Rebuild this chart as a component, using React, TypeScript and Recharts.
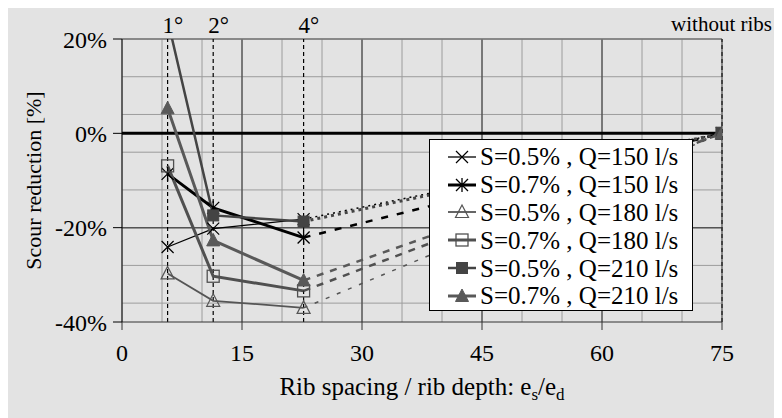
import React from "react";
import { LineChart, Line, XAxis, YAxis, CartesianGrid, ReferenceLine } from "recharts";

// rib spacing positions (es/ed) for the 1°, 2°, 4° slopes
const ribX = [5.7, 11.4, 22.7];
const ribLabels = ["1°", "2°", "4°"];
const noRibX = 75;
const noRibY = 0;

// scour reduction [%] at 1°, 2°, 4°
const s05q150 = [-24.1, -20.2, -18.2];
const s07q150 = [-8.6, -15.8, -22.1];
const s05q180 = [-29.7, -35.5, -37.0];
const s07q180 = [-6.9, -30.3, -33.4];
const s05q210 = [24.1, -17.4, -18.7];
const s07q210 = [5.3, -22.7, -31.2];

const names = [
    "S=0.5% , Q=150 l/s",
    "S=0.7% , Q=150 l/s",
    "S=0.5% , Q=180 l/s",
    "S=0.7% , Q=180 l/s",
    "S=0.5% , Q=210 l/s",
    "S=0.7% , Q=210 l/s",
];

const xTicks = [0, 15, 30, 45, 60, 75];
const yTicks = [-40, -20, 0, 20];
const xMinor = [0, 5, 10, 15, 20, 25, 30, 35, 40, 45, 50, 55, 60, 65, 70, 75];
const yMinor = [-40, -36, -32, -28, -24, -20, -16, -12, -8, -4, 0, 4, 8, 12, 16, 20];
const xMajor = [15, 30, 45, 60];

const FONT = "'Liberation Serif', 'Times New Roman', Times, serif";

const series = [
    { name: names[0], values: s05q150, shape: "cross", color: "#000", width: 1.3, dash: "2 4", dashWidth: 1.5 },
    { name: names[1], values: s07q150, shape: "star", color: "#000", width: 3, dash: "7 9", dashWidth: 2.5 },
    { name: names[2], values: s05q180, shape: "triangle", color: "#555", width: 1.8, dash: "4 8", dashWidth: 1.5 },
    { name: names[3], values: s07q180, shape: "square", color: "#505050", width: 3, dash: "7 7", dashWidth: 2.5 },
    { name: names[4], values: s05q210, shape: "squareFilled", color: "#444", width: 2.5, dash: "3 4", dashWidth: 3 },
    { name: names[5], values: s07q210, shape: "triangleFilled", color: "#595959", width: 3, dash: "7 7", dashWidth: 2.5 },
];

function Marker({ shape, cx, cy, color }: { shape: string; cx: number; cy: number; color: string }) {
    const s = 6;
    if (shape === "cross")
        return <path d={`M${cx - s},${cy - s}L${cx + s},${cy + s}M${cx - s},${cy + s}L${cx + s},${cy - s}`} stroke={color} strokeWidth={1.2} fill="none" />;
    if (shape === "star")
        return <path d={`M${cx - s},${cy - s}L${cx + s},${cy + s}M${cx - s},${cy + s}L${cx + s},${cy - s}M${cx},${cy - s - 1}L${cx},${cy + s + 1}`} stroke={color} strokeWidth={1.3} fill="none" />;
    if (shape === "triangle")
        return <polygon points={`${cx},${cy - 7} ${cx + 6.5},${cy + 5.5} ${cx - 6.5},${cy + 5.5}`} stroke={color} strokeWidth={1.2} fill="none" />;
    if (shape === "triangleFilled")
        return <polygon points={`${cx},${cy - 7} ${cx + 6.5},${cy + 5.5} ${cx - 6.5},${cy + 5.5}`} stroke={color} strokeWidth={1} fill={color} />;
    if (shape === "square")
        return <rect x={cx - 6} y={cy - 6} width={12} height={12} stroke={color} strokeWidth={1.3} fill="none" />;
    return <rect x={cx - 5.5} y={cy - 5.5} width={11} height={11} stroke={color} strokeWidth={1} fill={color} />;
}

function LegendBox() {
    return (
        <div
            style={{
                position: "absolute",
                left: 424,
                top: 131,
                width: 264,
                height: 172,
                background: "#fff",
                border: "1px solid #000",
                fontFamily: FONT,
                fontSize: 25,
                paddingTop: 3,
                boxSizing: "border-box",
            }}
        >
            {series.map((s) => (
                <div key={s.name} style={{ display: "flex", alignItems: "center", height: 27.8, paddingLeft: 17 }}>
                    <svg width={30} height={20} style={{ marginRight: 3 }}>
                        <line x1={1} y1={10} x2={29} y2={10} stroke={s.color} strokeWidth={s.width} />
                        <Marker shape={s.shape} cx={15} cy={10} color={s.color} />
                    </svg>
                    <span style={{ whiteSpace: "pre", lineHeight: "25px" }}>{s.name}</span>
                </div>
            ))}
        </div>
    );
}

export default function App() {
    return (
        <div style={{ position: "relative", marginLeft: -3, width: 777, height: 410, background: "#e3e3e3", fontFamily: FONT }}>
            <LineChart width={777} height={410} margin={{ top: 31, right: 60, bottom: 0, left: 0 }}>
                <CartesianGrid stroke="#9c9c9c" horizontalValues={yMinor} verticalValues={xMinor} />
                <XAxis
                    dataKey="x"
                    type="number"
                    domain={[0, 75]}
                    ticks={xTicks}
                    allowDataOverflow
                    height={96}
                    tickSize={8}
                    tickMargin={14}
                    stroke="#333"
                    tick={{ fill: "#000", fontSize: 24, fontFamily: FONT }}
                    label={({ viewBox }: any) => (
                        <text x={viewBox.x + viewBox.width / 2} y={viewBox.y + 73} textAnchor="middle" fontFamily={FONT} fontSize={25} fill="#000">
                            Rib spacing / rib depth: e
                            <tspan dy={5} fontSize={17}>s</tspan>
                            <tspan dy={-5}>/e</tspan>
                            <tspan dy={5} fontSize={17}>d</tspan>
                        </text>
                    )}
                />
                <YAxis
                    type="number"
                    domain={[-40, 20]}
                    ticks={yTicks}
                    allowDataOverflow
                    width={117}
                    tickSize={9}
                    tickMargin={6}
                    stroke="#000"
                    tickFormatter={(v: number) => `${v}%`}
                    tick={{ fill: "#000", fontSize: 24, fontFamily: FONT }}
                    label={({ viewBox }: any) => (
                        <text
                            x={viewBox.x + 28}
                            y={viewBox.y + viewBox.height / 2}
                            transform={`rotate(-90 ${viewBox.x + 28} ${viewBox.y + viewBox.height / 2})`}
                            textAnchor="middle"
                            dominantBaseline="central"
                            fontFamily={FONT}
                            fontSize={22}
                            fill="#000"
                        >
                            Scour reduction [%]
                        </text>
                    )}
                />
                {xMajor.map((x) => (
                    <ReferenceLine key={`vx${x}`} x={x} stroke="#333" strokeWidth={1} />
                ))}
                <ReferenceLine y={-20} stroke="#555" strokeWidth={1.5} />
                <ReferenceLine y={20} stroke="#777" strokeWidth={1.5} />
                <ReferenceLine x={noRibX} stroke="#777" strokeWidth={1.5} />
                <ReferenceLine y={noRibY} stroke="#000" strokeWidth={3} />
                {ribX.map((x, i) => (
                    <ReferenceLine
                        key={`rib${i}`}
                        x={x}
                        stroke="#000"
                        strokeDasharray="4 3"
                        strokeWidth={1.2}
                        label={({ viewBox }: any) => (
                            <text x={viewBox.x - 5} y={viewBox.y - 6} fontFamily={FONT} fontSize={23} fill="#000">
                                {ribLabels[i]}
                            </text>
                        )}
                    />
                ))}
                <ReferenceLine
                    x={noRibX}
                    stroke="#000"
                    strokeDasharray="4 3"
                    strokeWidth={1}
                    label={({ viewBox }: any) => (
                        <text x={viewBox.x + 50} y={viewBox.y - 8} textAnchor="end" fontFamily={FONT} fontSize={21} fill="#000">
                            without ribs
                        </text>
                    )}
                />
                {series.map((s, si) => (
                    <Line
                        key={`d${si}`}
                        data={[
                            { x: ribX[2], y: s.values[2] },
                            { x: noRibX, y: noRibY },
                        ]}
                        dataKey="y"
                        stroke={s.color}
                        strokeWidth={s.dashWidth}
                        strokeDasharray={s.dash}
                        isAnimationActive={false}
                        legendType="none"
                        dot={(p: any) =>
                            p.index === 1 ? (
                                <g key={`dd${si}`}>
                                    <Marker shape={s.shape} cx={p.cx} cy={p.cy} color={s.color} />
                                </g>
                            ) : (
                                <g key={`dd${si}-0`} />
                            )
                        }
                        activeDot={false}
                    />
                ))}
                {series.map((s, si) => (
                    <Line
                        key={`s${si}`}
                        data={ribX.map((x, i) => ({ x, y: s.values[i] }))}
                        dataKey="y"
                        name={s.name}
                        stroke={s.color}
                        strokeWidth={s.width}
                        isAnimationActive={false}
                        dot={(p: any) => (
                            <g key={`m${si}-${p.index}`}>
                                <Marker shape={s.shape} cx={p.cx} cy={p.cy} color={s.color} />
                            </g>
                        )}
                        activeDot={false}
                    />
                ))}
            </LineChart>
            <LegendBox />
        </div>
    );
}
